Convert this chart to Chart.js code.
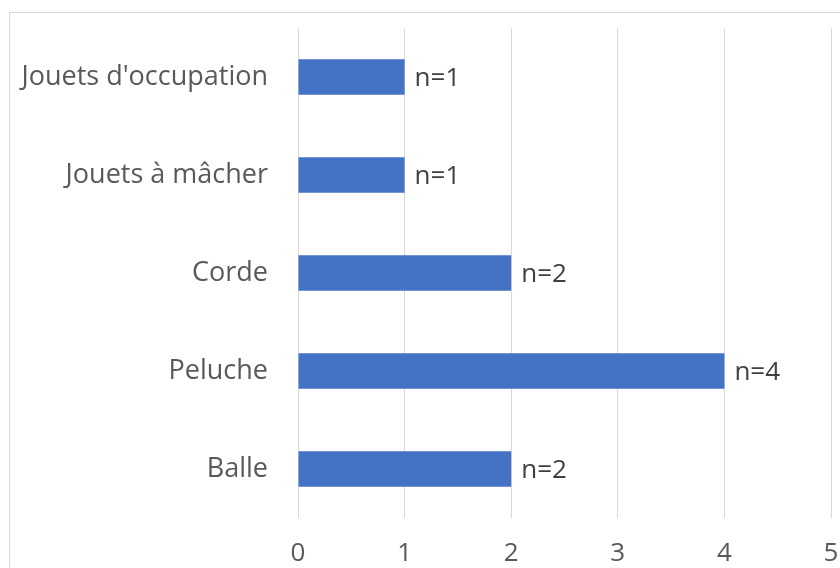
<!DOCTYPE html>
<html lang="fr">
<head>
    <meta charset="UTF-8">
    <title>Jouets</title>
    <script src="https://cdn.jsdelivr.net/npm/chart.js"></script>
</head>
<body>
    <div class="cadre"></div>
    <div class="graph">
        <canvas id="myChart" width="840" height="568"></canvas>
    </div>
</body>
</html>

<script>
    var categories = ["Jouets d'occupation", 'Jouets à mâcher', 'Corde', 'Peluche', 'Balle'];
    var valeurs = [1, 1, 2, 4, 2];
    var etiquettes = ['n=1', 'n=1', 'n=2', 'n=4', 'n=2'];
    var ticksX = [0, 1, 2, 3, 4, 5];

    const police = "'Open Sans', 'Noto Sans', sans-serif";

    // etiquettes "n=..." au bout des barres
    const pluginEtiquettes = {
        id: 'etiquettes',
        afterDatasetsDraw(chart) {
            const ctx = chart.ctx;
            const meta = chart.getDatasetMeta(0);
            ctx.save();
            ctx.font = '26px ' + police;
            ctx.fillStyle = '#404040';
            ctx.textAlign = 'left';
            ctx.textBaseline = 'middle';
            meta.data.forEach(function(barre, i){
                ctx.fillText(etiquettes[i], barre.x + 10, barre.y + 2);
            });
            ctx.restore();
        }
    };

    const data = {
        labels: categories,
        datasets: [{
            data: valeurs,
            backgroundColor: '#4472c4',
            barPercentage: 0.36,
            categoryPercentage: 1
        }]
    };

    const config = {
        type: 'bar',
        data: data,
        plugins: [pluginEtiquettes],
        options: {
            indexAxis: 'y',
            responsive: false,
            animation: false,
            layout: {
                padding: { top: 28, right: 9, bottom: 0, left: 0 }
            },
            plugins: {
                legend: { display: false },
                tooltip: { enabled: false }
            },
            scales: {
                x: {
                    min: 0,
                    max: 5,
                    afterBuildTicks: function(axe){
                        axe.ticks = ticksX.map(function(v){ return { value: v }; });
                    },
                    afterFit: function(axe){
                        axe.height = 50;
                        axe.paddingLeft = 0;
                        axe.paddingRight = 0;
                    },
                    grid: { color: '#d9d9d9', drawTicks: false },
                    border: { display: false },
                    ticks: {
                        color: '#595959',
                        padding: 20,
                        maxRotation: 0,
                        font: { family: police, size: 26 }
                    }
                },
                y: {
                    afterFit: function(axe){
                        axe.width = 298;
                        axe.paddingTop = 0;
                        axe.paddingBottom = 0;
                    },
                    grid: { display: false, drawTicks: false },
                    border: { display: false },
                    ticks: {
                        color: '#595959',
                        padding: 30,
                        font: { family: police, size: 27 }
                    }
                }
            }
        }
    };

    var myChart = new Chart(document.getElementById('myChart'), config);
</script>
<style>
    body{
        margin: 0;
        background-color: white;
        overflow: hidden;
    }
    .cadre{
        position: absolute;
        left: 9px;
        top: 12px;
        width: 900px;
        height: 700px;
        border: 1px solid #d9d9d9;
    }
    .graph{
        position: absolute;
        left: 0;
        top: 0;
    }
</style>
